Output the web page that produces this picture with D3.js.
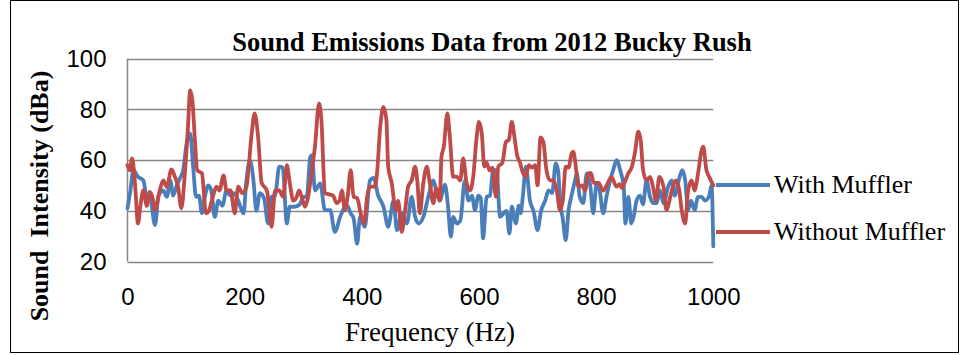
<!DOCTYPE html>
<html>
<head>
<meta charset="utf-8">
<script src="https://cdn.jsdelivr.net/npm/d3@7"></script>
<style>
  html, body { margin: 0; padding: 0; background: #fff; }
  svg { display: block; }
</style>
</head>
<body>
<svg id="chart" width="966" height="355"></svg>
<script>
// ---- data ----
const xTicks = [0, 200, 400, 600, 800, 1000];
const yTicks = [20, 40, 60, 80, 100];
const seriesNames = ["With Muffler", "Without Muffler"];

const withFreq = [0,5,10,18,27,33,38,47,53,61,67,73,78,84,90,95,101,107,112,117,122,127,132,138,143,149,155,162,169,175,182,189,198,203,209,215,220,226,233,240,246,252,259,265,272,277,285,294,300,306,312,315,320,329,337,346,354,363,368,375,381,386,392,397,405,414,420,428,437,445,454,460,468,477,485,491,497,505,514,522,527,533,542,547,552,556,562,568,576,582,588,593,599,603,607,613,619,624,630,636,642,647,652,656,663,668,671,675,680,687,693,700,706,713,719,725,731,735,739,743,748,753,758,764,767,772,778,784,790,795,801,806,812,818,824,829,835,841,847,850,855,860,864,869,875,880,886,892,898,903,909,915,923,929,934,941,947,952,957,962,968,974,980,986,993,997,1000];
const withDb   = [41,48,56,53.4,52,45.5,46,34.4,46,48,45.5,52,46,50,53,56,66.6,70.5,57.4,45.5,46,39,45.5,50,48,37.6,44,42,48,46,47,44,39,52,60,52,40,47,45,35,45.5,46,57.4,57,35,41.6,41.6,42.5,45.5,45.5,61.3,62,48,50.8,40.3,40.3,31.7,37.6,40.3,42,39,37,27,37.6,33.7,52,53,46,41.6,33.7,44,32.4,39,35,45.5,37.6,35,37.6,46,52,48,44,50.3,42,29.8,37.6,35,36,52,44,46,40.3,46,45,29.2,45.5,46,56,56,37.6,39,40,31,41.6,35,42,39,46,57.4,44,40,32.4,40,44,48,47,58.7,56,42.5,37,28.4,40.3,46,52,54.8,45.5,43,54.8,50,39,51,48,39,46,52,56,60,56,49.5,35,45.5,35,37.6,44,46,42.5,52,45.5,43,43,48,43,49.5,52,46,52,56,52,40.3,44,40.3,45.5,45.5,44,46,50,26];

const withoutFreq = [0,4,8,13,18,22,27,33,38,43,47,55,61,67,75,81,86,92,98,103,107,111,115,119,127,134,139,145,152,157,164,169,176,183,189,196,203,212,217,223,229,238,246,252,259,266,272,277,283,288,293,298,303,308,314,320,327,331,337,346,351,357,362,366,371,376,381,386,392,398,404,409,414,422,426,431,437,442,445,451,458,462,468,474,479,485,491,495,499,505,511,516,522,527,533,536,540,546,550,556,562,568,573,579,585,590,596,600,605,609,613,618,623,629,633,640,646,651,656,660,665,670,675,680,685,690,696,700,705,710,715,721,727,733,738,743,748,753,758,761,766,770,776,781,787,791,796,804,812,818,826,835,840,844,850,855,861,866,872,876,880,886,892,897,902,908,915,920,926,931,936,942,946,952,957,963,968,974,980,983,988,993,1000];
const withoutDb   = [58,56,60.7,50,35,42,48,42,47.5,45,40.3,48,52,49.5,56.3,53.4,50,41,55,72,87.5,83,68,56,54.8,39,40,45,49.5,48,54,48,48,39,49.5,47,49.5,70.5,78.4,69,51,48,33.7,48,48,45.5,58,51,44,45,48,45,41.6,45,54.8,65.3,82.4,75.8,47,46.4,46,43,44,48,40.3,46,56,45.5,45,39,35,45.5,49.5,49.5,54.8,72,81,75.8,57.4,51,40.3,44,31.7,40.3,49.5,52,57.4,51,39,51,57.4,51,43,49,44,61.3,65.3,78.4,70,53.4,53.5,52,60.7,50.8,48,53,69,75.1,70,57.4,59,56,57,45.5,57.4,59,67.2,68,75.1,70,62,59,55,53.4,58,57,58,50,69,67,56.3,52,52,48,40.3,44,57.4,57,62.6,63.3,56,49.5,50,48,54.8,55,51,51,48,50,53.4,49.5,50.5,49,52,54.8,57.4,62.6,71.2,68,56.3,52,53.4,49.5,44,53.4,49.5,40.3,45,49.5,52,48,40.3,35,48,52,48,54.8,63.9,65.3,56.3,53.4,50];

// ---- drawing ----
const svg = d3.select("#chart");
const colors = ["#4A7EBB", "#BE4B48"];

const x = d3.scaleLinear().domain([0, 1000]).range([127.5, 713.3]);
const y = d3.scaleLinear().domain([20, 100]).range([261.5, 58.7]);

// chart border
svg.append("rect")
  .attr("x", 10.5).attr("y", 0.5)
  .attr("width", 948).attr("height", 352)
  .attr("fill", "none").attr("stroke", "#000").attr("stroke-width", 1);

// horizontal gridlines (and bottom axis line)
svg.append("g").selectAll("line").data(yTicks).join("line")
  .attr("x1", x(0)).attr("x2", x(1000))
  .attr("y1", d => Math.round(y(d)) + 0.5).attr("y2", d => Math.round(y(d)) + 0.5)
  .attr("stroke", "#868686").attr("stroke-width", 1.5);

// left axis line
svg.append("line")
  .attr("x1", x(0)).attr("x2", x(0))
  .attr("y1", y(100)).attr("y2", y(20))
  .attr("stroke", "#868686").attr("stroke-width", 1.5);

// y axis labels
const yAxis = d3.axisLeft(y).tickValues(yTicks).tickSize(0).tickPadding(21);
const gy = svg.append("g").attr("transform", `translate(${x(0)},0)`).call(yAxis);
gy.select(".domain").remove();
gy.selectAll("text").attr("font-family", "'Liberation Sans', Arial, sans-serif")
  .attr("font-size", 24).attr("fill", "#000");

// x axis labels
const xAxis = d3.axisBottom(x).tickValues(xTicks).tickFormat(d3.format("d")).tickSize(0).tickPadding(26);
const gx = svg.append("g").attr("transform", `translate(0,${y(20)})`).call(xAxis);
gx.select(".domain").remove();
gx.selectAll("text").attr("font-family", "'Liberation Sans', Arial, sans-serif")
  .attr("font-size", 24).attr("fill", "#000");

// lines
const line = d3.line()
  .x(d => x(d[0])).y(d => y(d[1]))
  .curve(d3.curveMonotoneX);

const series = [
  d3.zip(withFreq, withDb),
  d3.zip(withoutFreq, withoutDb)
];

svg.append("g").selectAll("path").data(series).join("path")
  .attr("d", line)
  .attr("fill", "none")
  .attr("stroke", (d, i) => colors[i])
  .attr("stroke-width", 3.8)
  .attr("stroke-linejoin", "round")
  .attr("stroke-linecap", "round");

// title
svg.append("text")
  .attr("x", 492).attr("y", 51)
  .attr("text-anchor", "middle")
  .attr("font-family", "'Liberation Serif', 'Times New Roman', serif")
  .attr("font-weight", "bold").attr("font-size", 26.5)
  .text("Sound Emissions Data from 2012 Bucky Rush");

// y axis title
svg.append("text")
  .attr("transform", "translate(48,196) rotate(-90)")
  .attr("text-anchor", "middle")
  .attr("font-family", "'Liberation Serif', 'Times New Roman', serif")
  .attr("font-weight", "bold").attr("font-size", 26)
  .attr("xml:space", "preserve")
  .text("Sound  Intensity (dBa)");

// x axis title
svg.append("text")
  .attr("x", 430).attr("y", 341)
  .attr("text-anchor", "middle")
  .attr("font-family", "'Liberation Serif', 'Times New Roman', serif")
  .attr("font-size", 27)
  .text("Frequency (Hz)");

// legend
const legendY = [185, 232];
const lg = svg.append("g").selectAll("g").data(seriesNames).join("g")
  .attr("transform", (d, i) => `translate(0,${legendY[i]})`);
lg.append("line")
  .attr("x1", 716).attr("x2", 770).attr("y1", 0).attr("y2", 0)
  .attr("stroke", (d, i) => colors[i]).attr("stroke-width", 3.8);
lg.append("text")
  .attr("x", 774).attr("y", 8)
  .attr("font-family", "'Liberation Serif', 'Times New Roman', serif")
  .attr("font-size", 26)
  .text(d => d);
</script>
</body>
</html>
